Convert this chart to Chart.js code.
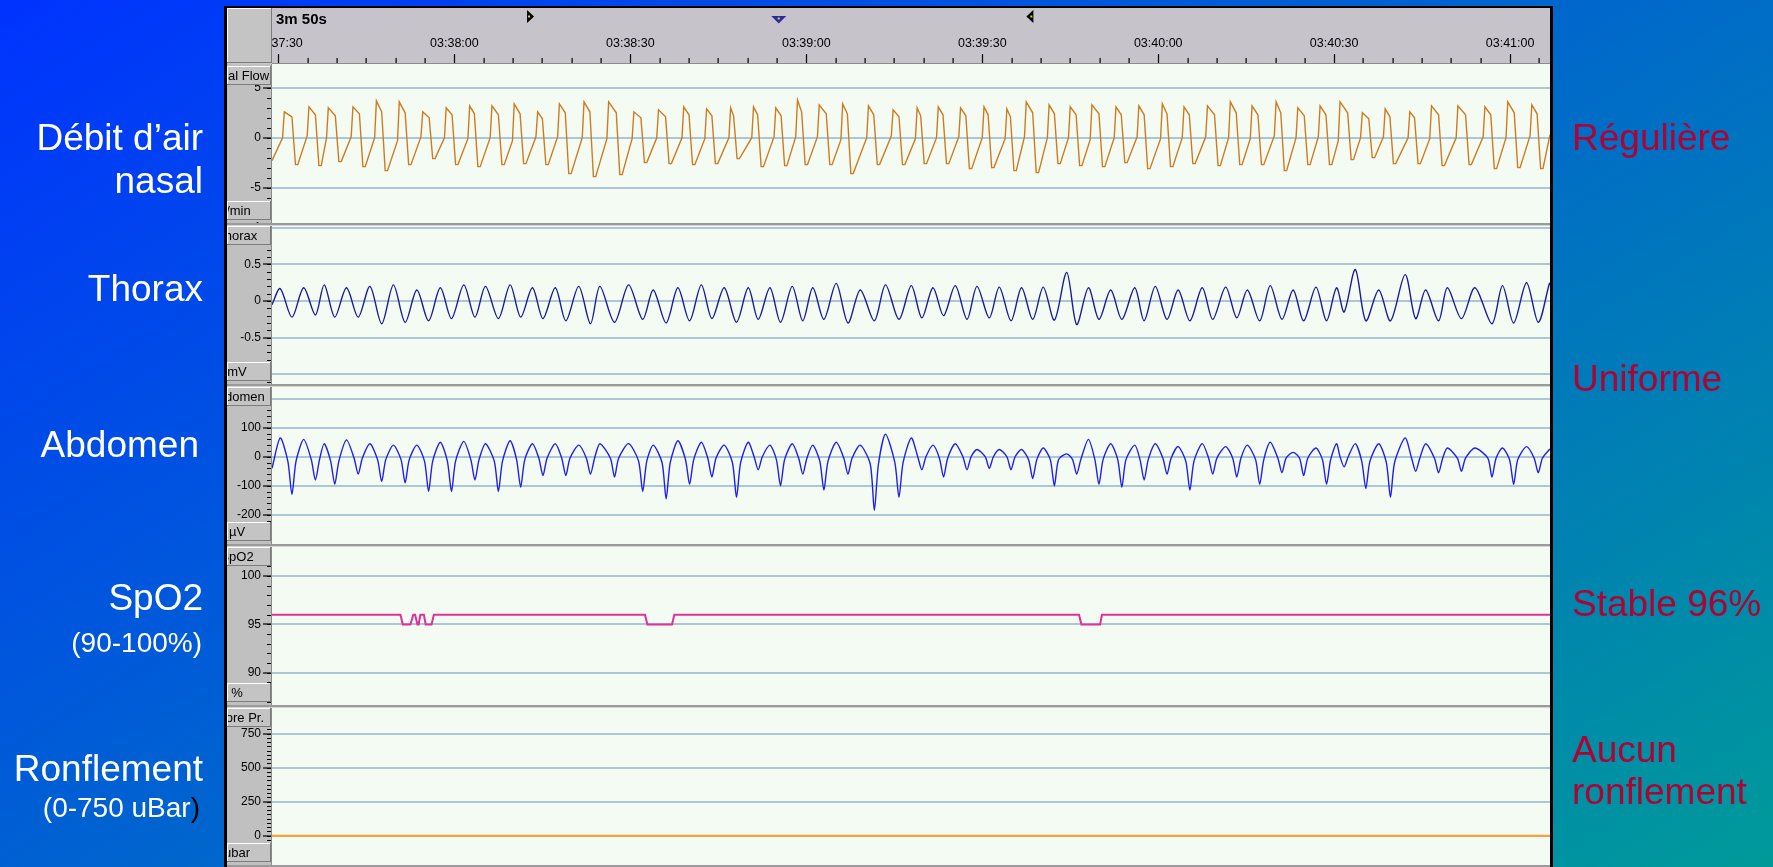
<!DOCTYPE html>
<html>
<head>
<meta charset="utf-8">
<script src="https://cdn.jsdelivr.net/npm/chart.js@4.4.1/dist/chart.umd.min.js"></script>
<style>
  html, body { margin: 0; padding: 0; overflow: hidden; }
  body { width: 1773px; height: 867px; background: linear-gradient(148deg, #0033ff 0%, #009a9a 100%); }
  #wrap { position: relative; width: 1773px; height: 867px; }
</style>
</head>
<body>
<div id="wrap"><canvas id="psg"></canvas></div>
<script>
// time axis: seconds after 03:37:00
const timeTicks = [30, 60, 90, 120, 150, 180, 210, 240];
const edgeT = [28.9, 246.8];
const markerT = [72.9, 115.3, 158.2];

// nasal flow (l/min)
// breath onset (sharp inspiratory rise starts here)
const flowRestT = [30.7, 34.9, 38.2, 42.4, 46.4, 50.3, 54.3, 58.3, 62.3, 66.1,
  69.9, 73.9, 77.6, 81.8, 86.0, 90.3, 94.5, 98.8, 102.7, 106.8,
  110.7, 114.5, 118.2, 121.9, 125.9, 130.3, 134.5, 138.6, 142.2, 146.0,
  150.0, 153.9, 157.2, 161.1, 164.7, 168.4, 172.5, 176.4, 180.4, 184.1,
  188.1, 192.0, 195.7, 199.8, 203.5, 207.3, 210.7, 214.5, 218.4, 222.6,
  226.3, 230.8, 235.4, 239.3, 243.4];
const flowRestV = [0.0, 0.2, 0.0, 0.1, 0.0, -0.3, 0.1, 0.0, -0.1, 0.0,
  -0.3, 0.1, 0.1, 0.0, -0.1, -0.1, 0.0, 0.0, -0.1, 0.0,
  0.0, 0.1, 0.1, 0.1, -0.2, 0.0, 0.2, -0.1, 0.0, 0.1,
  0.0, -0.1, 0.1, 0.0, 0.0, -0.2, 0.0, 0.1, -0.1, 0.0,
  0.1, 0.0, -0.1, 0.2, 0.0, 0.1, -0.3, 0.0, 0.1, 0.0,
  -0.1, 0.0, 0.1, 0.0, 0.2];
const flowPeakT = [31.0, 35.2, 38.5, 42.7, 46.7, 50.6, 54.6, 58.6, 62.6, 66.4,
  70.2, 74.2, 77.9, 82.1, 86.3, 90.6, 94.8, 99.1, 103.0, 107.1,
  111.0, 114.8, 118.5, 122.2, 126.2, 130.6, 134.8, 138.9, 142.5, 146.3,
  150.3, 154.2, 157.5, 161.4, 165.0, 168.7, 172.8, 176.7, 180.7, 184.4,
  188.4, 192.3, 196.0, 200.1, 203.8, 207.6, 211.0, 214.8, 218.7, 222.9,
  226.6, 231.1, 235.7, 239.6, 243.7];
const flowPeakV = [2.6, 3.1, 3.0, 3.1, 3.7, 3.6, 2.6, 3.0, 3.2, 3.2,
  3.4, 2.6, 3.4, 3.6, 3.6, 2.6, 2.8, 3.1, 2.9, 3.0,
  3.1, 3.0, 3.8, 3.3, 3.4, 3.2, 2.8, 3.0, 3.1, 3.0,
  3.1, 2.9, 3.6, 3.3, 3.1, 3.3, 3.1, 3.2, 3.4, 3.1,
  3.2, 3.6, 3.2, 3.6, 3.0, 3.2, 3.6, 2.5, 2.9, 2.6,
  3.2, 3.2, 3.1, 3.6, 3.3];
// end of the inspiratory plateau, just before the fall
const flowShoulderT = [32.3, 36.3, 39.7, 43.8, 47.6, 51.6, 55.7, 59.6, 63.4, 67.5,
  71.2, 75.0, 78.9, 83.1, 87.6, 91.8, 96.0, 100.0, 103.9, 107.6,
  111.7, 115.7, 119.2, 123.4, 127.0, 131.5, 135.8, 139.5, 143.3, 147.2,
  151.0, 154.8, 158.6, 162.3, 166.0, 169.9, 173.7, 177.6, 181.5, 185.3,
  189.6, 193.3, 197.0, 200.9, 204.9, 208.6, 212.3, 215.9, 219.5, 223.7,
  227.8, 232.4, 236.7, 240.7, 244.6];
const flowShoulderV = [2.1, 2.3, 2.2, 2.4, 2.6, 2.5, 2.0, 2.3, 2.4, 2.3,
  2.4, 1.9, 2.5, 2.6, 2.5, 2.0, 2.1, 2.3, 2.2, 2.2,
  2.3, 2.2, 2.6, 2.4, 2.4, 2.3, 2.1, 2.2, 2.3, 2.2,
  2.3, 2.1, 2.5, 2.4, 2.3, 2.4, 2.3, 2.3, 2.4, 2.3,
  2.3, 2.5, 2.3, 2.5, 2.2, 2.3, 2.5, 1.9, 2.1, 2.0,
  2.3, 2.3, 2.3, 2.5, 2.4];
// expiratory trough: start and end of its flat bottom
const flowTroughT = [32.9, 36.9, 40.3, 44.4, 48.2, 52.2, 56.3, 60.2, 64.0, 68.1,
  71.8, 75.6, 79.5, 83.7, 88.2, 92.4, 96.6, 100.6, 104.5, 108.2,
  112.3, 116.3, 119.8, 124.0, 127.6, 132.1, 136.4, 140.1, 143.9, 147.8,
  151.6, 155.4, 159.2, 162.9, 166.6, 170.5, 174.3, 178.2, 182.1, 185.9,
  190.2, 193.9, 197.6, 201.5, 205.5, 209.2, 212.9, 216.5, 220.1, 224.3,
  228.4, 233.0, 237.3, 241.3, 245.2];
const flowTroughEndT = [33.3, 37.3, 40.7, 44.8, 48.6, 52.6, 56.7, 60.6, 64.4, 68.5,
  72.2, 76.0, 79.9, 84.1, 88.6, 92.8, 97.0, 101.0, 104.9, 108.6,
  112.7, 116.7, 120.2, 124.4, 128.0, 132.5, 136.8, 140.5, 144.3, 148.2,
  152.0, 155.8, 159.6, 163.3, 167.0, 170.9, 174.7, 178.6, 182.5, 186.3,
  190.6, 194.3, 198.0, 201.9, 205.9, 209.6, 213.3, 216.9, 220.5, 224.7,
  228.8, 233.4, 237.7, 241.7, 245.6];
const flowTroughV = [-2.7, -2.8, -2.4, -2.9, -3.3, -2.7, -2.1, -2.7, -2.9, -2.7,
  -2.6, -2.7, -3.6, -3.9, -3.7, -2.5, -2.6, -2.7, -2.6, -2.1,
  -2.9, -2.8, -2.7, -2.7, -3.6, -2.7, -2.7, -2.6, -2.6, -3.1,
  -3.0, -3.3, -3.5, -2.6, -2.8, -2.9, -2.5, -3.1, -2.9, -2.6,
  -2.8, -2.7, -2.7, -3.3, -2.7, -2.7, -2.2, -2.0, -2.6, -2.6,
  -2.8, -2.7, -3.1, -3.0, -3.1];
const flowEdgeV = [-2.3, 0.3];

// thorax and abdomen belts move in phase: shared peak / trough times
const effortPeakT = [30.3, 34.3, 37.8, 41.6, 45.6, 49.6, 53.6, 57.6, 61.6, 65.3,
  69.5, 73.3, 77.2, 81.2, 84.8, 89.7, 93.9, 98.1, 102.1, 106.0,
  110.1, 113.8, 117.6, 121.1, 125.1, 129.2, 133.5, 137.9, 141.6, 145.4,
  149.1, 152.9, 156.7, 160.4, 164.4, 168.1, 171.9, 176.0, 179.5, 183.4,
  187.5, 191.5, 195.2, 199.1, 203.0, 206.9, 210.4, 213.6, 217.6, 222.1,
  225.6, 229.3, 234.0, 238.7, 242.8, 246.7];
const effortTroughT = [32.3, 36.3, 39.6, 43.6, 47.6, 51.6, 55.6, 59.5, 63.5, 67.5,
  71.3, 75.1, 79.0, 83.2, 87.3, 92.1, 96.1, 100.1, 103.9, 108.1,
  111.8, 115.6, 119.4, 123.0, 127.1, 131.6, 135.8, 139.7, 143.4, 147.4,
  151.2, 154.9, 158.6, 162.3, 166.1, 169.9, 173.8, 177.6, 181.5, 185.4,
  189.3, 193.4, 197.3, 201.1, 204.8, 208.7, 211.7, 215.4, 219.6, 223.9,
  227.8, 231.7, 236.9, 240.6, 244.8];

// thorax (mV)
const thoraxPeakV = [0.17, 0.18, 0.22, 0.18, 0.2, 0.22, 0.15, 0.18, 0.22, 0.2,
  0.22, 0.18, 0.18, 0.2, 0.2, 0.22, 0.15, 0.18, 0.22, 0.18,
  0.18, 0.18, 0.2, 0.18, 0.24, 0.15, 0.22, 0.21, 0.18, 0.21,
  0.2, 0.19, 0.18, 0.19, 0.39, 0.18, 0.15, 0.18, 0.2, 0.15,
  0.18, 0.19, 0.15, 0.21, 0.15, 0.19, 0.18, 0.43, 0.15, 0.36,
  0.15, 0.18, 0.18, 0.21, 0.25, 0.24];
const thoraxTroughV = [-0.22, -0.19, -0.22, -0.22, -0.31, -0.29, -0.27, -0.24, -0.22, -0.24,
  -0.22, -0.24, -0.27, -0.31, -0.29, -0.25, -0.3, -0.27, -0.24, -0.29,
  -0.25, -0.29, -0.27, -0.25, -0.3, -0.27, -0.25, -0.23, -0.2, -0.25,
  -0.23, -0.27, -0.25, -0.26, -0.32, -0.25, -0.25, -0.27, -0.25, -0.27,
  -0.25, -0.23, -0.27, -0.25, -0.27, -0.27, -0.15, -0.27, -0.27, -0.24,
  -0.27, -0.24, -0.31, -0.3, -0.29];
const thoraxEdgeV = [-0.05, 0.22];

// abdomen (µV)
const abdPeakV = [65, 60, 45, 58, 45, 40, 40, 50, 53, 45,
  55, 45, 45, 40, 45, 45, 40, 55, 50, 40,
  50, 40, 45, 40, 50, 40, 78, 65, 40, 45,
  25, 25, 25, 30, 10, 60, 45, 40, 45, 35,
  45, 35, 40, 50, 15, 30, 45, 45, 45, 65,
  45, 30, 30, 30, 35, 25];
const abdTroughV = [-130, -80, -95, -60, -85, -90, -120, -120, -80, -120,
  -105, -65, -65, -60, -70, -120, -145, -95, -70, -140,
  -45, -100, -60, -115, -60, -185, -140, -45, -70, -45,
  -40, -45, -75, -100, -60, -95, -105, -80, -60, -115,
  -60, -70, -95, -55, -65, -95, -35, -110, -140, -50,
  -55, -50, -70, -95, -55];
// knees where the abdominal trace leaves / rejoins the rounded lobe
const abdKneeInT = [31.6, 35.6, 38.9, 42.9, 46.9, 50.9, 54.9, 58.8, 62.8, 66.8,
  70.6, 74.4, 78.3, 82.5, 86.6, 91.4, 95.4, 99.4, 103.2, 107.4,
  111.1, 114.9, 118.7, 122.3, 126.4, 130.9, 135.1, 139.0, 142.7, 146.7,
  150.5, 154.2, 157.9, 161.6, 165.4, 169.2, 173.1, 176.9, 180.8, 184.7,
  188.6, 192.7, 196.6, 200.4, 204.1, 208.0, 211.0, 214.7, 218.9, 223.2,
  227.1, 231.0, 236.2, 239.9, 244.1];
const abdKneeOutT = [33.0, 37.0, 40.3, 44.3, 48.3, 52.3, 56.3, 60.2, 64.2, 68.2,
  72.0, 75.8, 79.7, 83.9, 88.0, 92.8, 96.8, 100.8, 104.6, 108.8,
  112.5, 116.3, 120.1, 123.7, 127.8, 132.3, 136.5, 140.4, 144.1, 148.1,
  151.9, 155.6, 159.3, 163.0, 166.8, 170.6, 174.5, 178.3, 182.2, 186.1,
  190.0, 194.1, 198.0, 201.8, 205.5, 209.4, 212.4, 216.1, 220.3, 224.6,
  228.5, 232.4, 237.6, 241.3, 245.5];
const abdKneeV = [-15, -10, -15, -5, -10, -10, -15, -15, -10, -15,
  -10, -5, -5, -5, -5, -15, -20, -10, -5, -20,
  0, -10, -5, -15, -5, -25, -20, 0, -5, 0,
  0, 0, -10, -10, -10, -10, -10, -10, -5, -15,
  -5, -5, -10, -5, -5, -10, 0, -15, -20, -5,
  -5, -5, -5, -10, -5];
const abdEdgeV = [-40, 25];

// SpO2 (%)
const spo2T = [28.9, 50.8, 51.2, 52.5, 53.0, 53.3, 53.7, 53.9, 54.2, 54.8, 55.1, 56.1, 56.5,
  92.5, 92.9, 97.1, 97.5, 166.5, 166.9, 170.1, 170.4, 246.8];
const spo2V = [96, 96, 95, 95, 96, 96, 95, 95, 96, 96, 95, 95, 96,
  96, 95, 95, 96, 96, 95, 95, 96, 96];

// snore pressure (uBar)
const snoreT = [28.9, 246.8];
const snoreV = [0, 0];

// axis tick labels per channel
const flowTicks = [-5, 0, 5];
const thoraxTicks = [-1, -0.5, 0, 0.5, 1];
const abdTicks = [-200, -100, 0, 100, 200];
const spo2Ticks = [90, 95, 100];
const snoreTicks = [0, 250, 500, 750];

const channelNames = ['Nasal Flow', 'Thorax', 'Abdomen', 'SpO2', 'Snore Pr.'];
const channelUnits = ['l/min', 'mV', 'µV', '%', 'ubar'];
const leftLabels = ['Débit d’air', 'nasal', 'Thorax', 'Abdomen', 'SpO2', '(90-100%)', 'Ronflement', '(0-750 uBar'];
const rightLabels = ['Régulière', 'Uniforme', 'Stable 96%', 'Aucun', 'ronflement'];

const FONT = '"Liberation Sans", Arial, sans-serif';
const channelIds = ['yFlow', 'yThorax', 'yAbd', 'ySpo2', 'ySnore'];
const minorStep = { yFlow: 1, yThorax: 0.1, yAbd: 20, ySpo2: 1, ySnore: 31.25 };

function points(...lists) {
  const pts = [];
  lists.forEach(([ts, vs]) => ts.forEach((t, i) => pts.push({ x: t, y: vs[i] })));
  return pts.sort((a, b) => a.x - b.x);
}

function clock(v) {
  const s = 3 * 3600 + 37 * 60 + v;
  const p = n => String(Math.floor(n)).padStart(2, '0');
  return p(s / 3600) + ':' + p((s % 3600) / 60) + ':' + p(s % 60);
}

function yScale(min, max, ticks, weight) {
  return {
    type: 'linear', position: 'left', stack: 'psg', stackWeight: 1, weight,
    min, max, bounds: 'data',
    afterBuildTicks: s => { s.ticks = ticks.map(v => ({ value: v })); },
    afterFit: s => { s.width = 45; s.paddingTop = 0; s.paddingBottom = 0; },
    border: { display: false },
    grid: { color: '#adc6d6', lineWidth: 2, tickColor: '#000', tickWidth: 1.2, tickLength: 9 },
    ticks: { color: '#000', font: { family: FONT, size: 12 }, padding: 2, autoSkip: false, callback: v => String(v) }
  };
}

function bevelBox(ctx, x, y, w, h) {
  ctx.fillStyle = '#c4c4c4'; ctx.fillRect(x, y, w, h);
  ctx.fillStyle = '#ffffff'; ctx.fillRect(x, y, w, 1); ctx.fillRect(x, y, 1, h);
  ctx.fillStyle = '#7c7c7c'; ctx.fillRect(x, y + h - 1, w, 1); ctx.fillRect(x + w - 1, y, 1, h);
}

const panel = {
  id: 'panel',
  beforeDraw(chart) {
    const { ctx, chartArea: a } = chart;
    ctx.save();
    ctx.fillStyle = '#c6c3ca'; ctx.fillRect(227, 8, a.right - 227, a.top - 8);
    ctx.fillStyle = '#c0c0c0'; ctx.fillRect(227, a.top, a.left - 227, 867 - a.top);
    ctx.fillStyle = '#f4fbf3'; ctx.fillRect(a.left, a.top, a.right - a.left, 867 - a.top);
    ctx.restore();
  },
  afterDraw(chart) {
    const { ctx, chartArea: a, scales } = chart;
    const xs = scales.x;
    ctx.save();

    // minor time ticks
    ctx.fillStyle = '#000';
    for (let t = 30; t <= xs.max; t += 5) {
      if (t % 30 === 0) continue;
      ctx.fillRect(Math.round(xs.getPixelForValue(t)) - 0.5, a.top - 6, 1.2, 6);
    }
    ctx.fillStyle = '#8c8c8c'; ctx.fillRect(272, a.top - 1, a.right - 272, 1);

    // minor value ticks
    ctx.fillStyle = '#000';
    channelIds.forEach(id => {
      const s = scales[id], st = minorStep[id];
      for (let i = Math.ceil(s.min / st); i * st <= s.max; i++) {
        ctx.fillRect(a.left - 5, Math.round(s.getPixelForValue(i * st)), 5, 1);
      }
    });

    // column / plot separator
    ctx.fillStyle = '#8a8a8a'; ctx.fillRect(a.left - 1, a.top, 1, 867 - a.top);

    // channel separators, label and unit boxes
    channelIds.forEach((id, i) => {
      const s = scales[id];
      if (i > 0) {
        ctx.fillStyle = '#9a9a9a'; ctx.fillRect(227, Math.round(s.top) - 1, a.right - 227, 2);
        ctx.fillStyle = '#d6d6d6'; ctx.fillRect(227, Math.round(s.top) + 1, a.right - 227, 1);
      }
      const boxes = [[s.top + 2, channelNames[i]], [s.bottom - 23, channelUnits[i]]];
      boxes.forEach(([by, txt]) => {
        by = Math.round(by);
        bevelBox(ctx, 227, by, 44, 19);
        ctx.save();
        ctx.beginPath(); ctx.rect(228, by, 42, 19); ctx.clip();
        ctx.fillStyle = '#000'; ctx.font = '13px ' + FONT;
        ctx.textAlign = 'center'; ctx.textBaseline = 'alphabetic';
        ctx.fillText(txt, 237, by + 14);
        ctx.restore();
      });
    });
    ctx.fillStyle = '#9a9a9a'; ctx.fillRect(227, 865, a.right - 227, 2);

    // header corner box and window length
    bevelBox(ctx, 227, 8, 45, 55);
    ctx.fillStyle = '#000'; ctx.font = 'bold 15px ' + FONT; ctx.textAlign = 'left';
    ctx.fillText('3m 50s', 276, 24);

    // cursor markers
    const m = markerT.map(t => xs.getPixelForValue(t));
    ctx.fillStyle = '#000';
    ctx.beginPath(); ctx.moveTo(m[0] - 3, 10); ctx.lineTo(m[0] + 4, 16.5); ctx.lineTo(m[0] - 3, 23); ctx.closePath(); ctx.fill();
    ctx.beginPath(); ctx.moveTo(m[2] + 3, 10); ctx.lineTo(m[2] - 4, 16.5); ctx.lineTo(m[2] + 3, 23); ctx.closePath(); ctx.fill();
    ctx.fillStyle = '#2a2aa8';
    ctx.beginPath(); ctx.moveTo(m[1] - 7.5, 16); ctx.lineTo(m[1] + 7.5, 16); ctx.lineTo(m[1], 23.5); ctx.closePath(); ctx.fill();
    ctx.fillStyle = '#e8e000';
    ctx.fillRect(m[0] - 2, 15.5, 2, 2); ctx.fillRect(m[2], 15.5, 2, 2); ctx.fillRect(m[1] - 1, 17.5, 2, 2);

    // panel border
    ctx.fillStyle = '#000';
    ctx.fillRect(224, 6, 3, 861); ctx.fillRect(a.right, 6, 3, 861); ctx.fillRect(224, 6, a.right + 3 - 224, 2);

    // slide captions
    ctx.textAlign = 'right'; ctx.fillStyle = '#ffffff';
    ctx.font = '37px ' + FONT;
    ctx.fillText(leftLabels[0], 203, 150);
    ctx.fillText(leftLabels[1], 203, 193);
    ctx.fillText(leftLabels[2], 203, 301);
    ctx.fillText(leftLabels[3], 199, 457);
    ctx.fillText(leftLabels[4], 203, 610);
    ctx.fillText(leftLabels[6], 203, 781);
    ctx.font = '28px ' + FONT;
    ctx.fillText(leftLabels[5], 202, 652);
    const pw = ctx.measureText(')').width;
    ctx.fillText(leftLabels[7], 200 - pw, 817);
    ctx.fillStyle = '#000'; ctx.fillText(')', 200, 817);

    ctx.textAlign = 'left'; ctx.fillStyle = '#ad0436';
    ctx.font = '37px ' + FONT;
    ctx.fillText(rightLabels[0], 1572, 150);
    ctx.fillText(rightLabels[1], 1572, 391);
    ctx.fillText(rightLabels[2], 1572, 616);
    ctx.fillText(rightLabels[3], 1572, 762);
    ctx.fillText(rightLabels[4], 1572, 804);
    ctx.restore();
  }
};

new Chart(document.getElementById('psg'), {
  type: 'line',
  data: {
    datasets: [
      { data: points([flowRestT, flowRestV], [flowPeakT, flowPeakV], [flowShoulderT, flowShoulderV],
                     [flowTroughT, flowTroughV], [flowTroughEndT, flowTroughV], [edgeT, flowEdgeV]),
        yAxisID: 'yFlow', borderColor: '#cf7a1e', borderWidth: 1.4, tension: 0 },
      { data: points([effortPeakT, thoraxPeakV], [effortTroughT, thoraxTroughV], [edgeT, thoraxEdgeV]),
        yAxisID: 'yThorax', borderColor: '#1a1a9c', borderWidth: 1.4, tension: 0.3 },
      { data: points([effortPeakT, abdPeakV], [effortTroughT, abdTroughV], [abdKneeInT, abdKneeV],
                     [abdKneeOutT, abdKneeV], [edgeT, abdEdgeV]),
        yAxisID: 'yAbd', borderColor: '#1e1ef0', borderWidth: 1.4, tension: 0.25 },
      { data: points([spo2T, spo2V]), yAxisID: 'ySpo2', borderColor: '#e0309a', borderWidth: 2, tension: 0 },
      { data: points([snoreT, snoreV]), yAxisID: 'ySnore', borderColor: '#ff9d2a', borderWidth: 2, tension: 0 }
    ]
  },
  options: {
    responsive: true,
    maintainAspectRatio: false,
    animation: false,
    events: [],
    devicePixelRatio: 1,
    elements: { point: { radius: 0 } },
    layout: { padding: { left: 227, right: 223, top: 8, bottom: 1 } },
    plugins: { legend: { display: false }, tooltip: { enabled: false } },
    scales: {
      x: {
        type: 'linear', position: 'top', min: edgeT[0], max: edgeT[1], bounds: 'data',
        afterBuildTicks: s => { s.ticks = timeTicks.map(v => ({ value: v })); },
        afterFit: s => { s.height = 56; s.paddingLeft = 0; s.paddingRight = 0; },
        border: { display: false },
        grid: { drawOnChartArea: false, tickLength: 10, tickColor: '#000', tickWidth: 1.2 },
        ticks: { color: '#000', font: { family: FONT, size: 12.5 }, padding: 3, maxRotation: 0, autoSkip: false, callback: v => clock(v) }
      },
      ySnore: yScale(-223, 956, snoreTicks, 1),
      ySpo2: yScale(86.6, 103.2, spo2Ticks, 2),
      yAbd: yScale(-305, 248, abdTicks, 3),
      yThorax: yScale(-1.143, 1.045, thoraxTicks, 4),
      yFlow: yScale(-8.7, 7.4, flowTicks, 5)
    }
  },
  plugins: [panel]
});
</script>
</body>
</html>
